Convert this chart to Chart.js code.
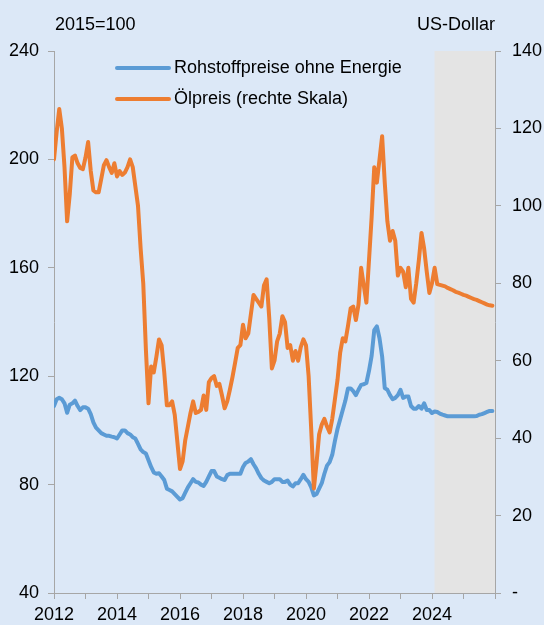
<!DOCTYPE html>
<html>
<head>
<meta charset="utf-8">
<script src="https://cdn.jsdelivr.net/npm/chart.js@4.4.1/dist/chart.umd.min.js"></script>
<style>
  html, body { margin: 0; padding: 0; background: #dce8f7; }
  #wrap { width: 544px; height: 625px; }
</style>
</head>
<body>
<div id="wrap"><canvas id="chart" width="544" height="625"></canvas></div>
<script>
/* ============================================================
  DATEN (Monatswerte Jan 2012 – Dez 2025)
============================================================ */
const startYear = 2012;
const forecastStart = 2024.08;
const yearLabels = [2012, 2014, 2016, 2018, 2020, 2022, 2024];

// Rohstoffpreise ohne Energie, 2015=100 (linke Skala)
const commodityIndex = [
  109, 111.5, 112, 111.5, 110, 106.5, 109.5, 110, 111, 109, 107.5, 108.5,     // 2012
  108.5, 108, 106, 103, 101, 100, 99, 98.5, 98, 98, 97.7, 97.5,               // 2013
  97, 98.5, 100, 100, 99, 98.5, 97.5, 97, 95, 93, 92, 91.5,                   // 2014
  89, 86.5, 84.5, 84, 84.2, 83, 81.7, 78.5, 78, 77.5, 76.5, 75.5,             // 2015
  74.5, 75, 77, 79, 80.5, 82, 81, 80.8, 80, 79.5, 81, 83,                     // 2016
  85, 85, 83, 82.5, 82, 81.7, 83.5, 84, 84, 84, 84, 84,                       // 2017
  86.5, 88, 88.5, 89.4, 87.5, 86, 84, 82.4, 81.5, 81, 80.5, 81,               // 2018
  82, 82, 82, 81, 81, 81.5, 80, 79.3, 80.5, 80.5, 82, 83.6,                   // 2019
  82, 81, 79, 76, 76.5, 78.5, 80.5, 84, 87, 88.3, 91, 96,                     // 2020
  100.5, 104, 107.5, 111, 115.5, 115.5, 114.5, 113, 115, 116.8, 117, 117.5,   // 2021
  122, 127.5, 137, 138.4, 134, 127.3, 115.6, 115, 113, 111.5, 112, 113,       // 2022
  115, 112, 112.5, 112.5, 109, 108, 108, 109, 108, 110, 107.5, 107.5,         // 2023
  106.4, 107, 106.8, 106.2, 105.8, 105.5, 105.2, 105.2, 105.2, 105.2, 105.2, 105.2, // 2024
  105.2, 105.2, 105.2, 105.2, 105.2, 105.3, 105.8, 106, 106.4, 106.8, 107.2, 107.2  // 2025
];

// Ölpreis in US-Dollar (rechte Skala)
const oilPrice = [
  112, 119, 125, 120, 110, 96, 103, 112.5, 113, 111, 109.8, 109.5,            // 2012
  112.5, 116.5, 109, 104, 103.5, 103.5, 107, 110.5, 111.8, 110, 108.5, 111,   // 2013
  107.6, 109, 108, 108.6, 110, 112, 110, 105, 100, 89, 80, 63,                // 2014
  49, 58.5, 57, 61, 65.5, 64, 57, 48.5, 48.5, 49.5, 46, 39,                   // 2015
  32, 34, 39.5, 43, 46.5, 49.5, 46.5, 46.8, 47.3, 51, 47.3, 54.5,             // 2016
  55.5, 56, 53.5, 54, 51, 47.7, 49.5, 52.5, 55.8, 59.5, 63.3, 64,             // 2017
  69.3, 65.8, 67, 72, 77, 76, 75, 74, 79.5, 81, 71, 58,                       // 2018
  60, 65, 67, 71.5, 70, 63.3, 64, 60, 62.5, 60, 63.5, 65.5,                   // 2019
  64, 56, 42, 27, 33.5, 41, 43.5, 45, 43, 41.5, 45, 50,                       // 2020
  55, 62, 65.8, 65, 69, 73.5, 74, 70.5, 74.5, 84, 79.5, 75,                   // 2021
  86, 97, 110, 106, 112, 118, 106, 96, 91, 93.5, 91, 82,                      // 2022
  84, 83, 79, 84, 76, 75, 80, 86, 93, 89, 83, 77.5,                           // 2023
  80, 84, 79.8, 79.6, 79.4, 79.2, 78.8, 78.5, 78.2, 77.8, 77.6, 77.3,         // 2024
  77, 76.8, 76.5, 76.2, 75.9, 75.7, 75.4, 75.1, 74.8, 74.5, 74.3, 74.2        // 2025
];

const toPoints = arr => arr.map((v, i) => ({ x: startYear + i / 12, y: v }));

/* ============================================================
  FARBEN / SCHRIFT
============================================================ */
const BG = '#dce8f7';
const SHADE = '#e4e4e4';
const AXIS = '#a6a6a6';
const BLUE = '#5b9bd5';
const ORANGE = '#ed7d31';
const FONT = '"Liberation Sans", Arial, sans-serif';

Chart.defaults.font.family = FONT;
Chart.defaults.font.size = 18;
Chart.defaults.color = '#000';

/* ============================================================
  PLUGINS: Hintergrund, Prognosebereich, Texte, Legende
============================================================ */
const backgroundPlugin = {
  id: 'bg',
  beforeDraw(chart) {
    const { ctx, chartArea, scales } = chart;
    ctx.save();
    ctx.fillStyle = BG;
    ctx.fillRect(0, 0, chart.width, chart.height);
    const x0 = scales.x.getPixelForValue(forecastStart);
    ctx.fillStyle = SHADE;
    ctx.fillRect(x0, chartArea.top, chartArea.right - x0, chartArea.bottom - chartArea.top);
    ctx.restore();
  }
};

const textPlugin = {
  id: 'texts',
  afterDraw(chart) {
    const { ctx, chartArea } = chart;
    ctx.save();
    ctx.font = '18px ' + FONT;
    ctx.fillStyle = '#000';
    ctx.textBaseline = 'alphabetic';
    ctx.textAlign = 'left';
    ctx.fillText('2015=100', chartArea.left + 1, 30);
    ctx.textAlign = 'right';
    ctx.fillText('US-Dollar', chartArea.right, 30);

    // Legende
    ctx.textAlign = 'left';
    ctx.textBaseline = 'middle';
    ctx.lineCap = 'round';
    chart.data.datasets.forEach((ds, i) => {
      const y = 68 + i * 31;
      ctx.strokeStyle = ds.borderColor;
      ctx.lineWidth = 4;
      ctx.beginPath();
      ctx.moveTo(117, y);
      ctx.lineTo(169, y);
      ctx.stroke();
      ctx.fillText(ds.label, 174, y);
    });
    ctx.restore();
  }
};

/* ============================================================
  CHART
============================================================ */
const axisGrid = { drawOnChartArea: false, drawTicks: true, tickLength: 6, color: AXIS, lineWidth: 1 };
const axisBorder = { display: true, color: AXIS, width: 1 };

new Chart(document.getElementById('chart'), {
  type: 'line',
  data: {
    datasets: [
      {
        label: 'Rohstoffpreise ohne Energie',
        data: toPoints(commodityIndex),
        yAxisID: 'y',
        borderColor: BLUE,
        borderWidth: 4,
        borderJoinStyle: 'round',
        borderCapStyle: 'round',
        pointRadius: 0,
        tension: 0,
        order: 2
      },
      {
        label: 'Ölpreis (rechte Skala)',
        data: toPoints(oilPrice),
        yAxisID: 'y1',
        borderColor: ORANGE,
        borderWidth: 4,
        borderJoinStyle: 'round',
        borderCapStyle: 'round',
        pointRadius: 0,
        tension: 0,
        order: 1
      }
    ]
  },
  options: {
    responsive: false,
    animation: false,
    devicePixelRatio: 1,
    layout: { padding: { top: 51, left: 0, right: 0, bottom: 0 } },
    plugins: {
      legend: { display: false },
      tooltip: { enabled: false }
    },
    scales: {
      x: {
        type: 'linear',
        min: 2012,
        max: 2026,
        grid: axisGrid,
        border: axisBorder,
        ticks: {
          stepSize: 1,
          autoSkip: false,
          maxRotation: 0,
          padding: 5,
          callback: v => yearLabels.includes(v) ? String(v) : ''
        },
        afterFit: s => { s.height = 32; }
      },
      y: {
        position: 'left',
        min: 40,
        max: 240,
        grid: axisGrid,
        border: axisBorder,
        ticks: { stepSize: 40, padding: 9 },
        afterFit: s => { s.width = 54; }
      },
      y1: {
        position: 'right',
        min: 0,
        max: 140,
        grid: axisGrid,
        border: axisBorder,
        ticks: { stepSize: 20, padding: 11, callback: v => v === 0 ? '-' : String(v) },
        afterFit: s => { s.width = 49; }
      }
    }
  },
  plugins: [backgroundPlugin, textPlugin]
});
</script>
</body>
</html>
